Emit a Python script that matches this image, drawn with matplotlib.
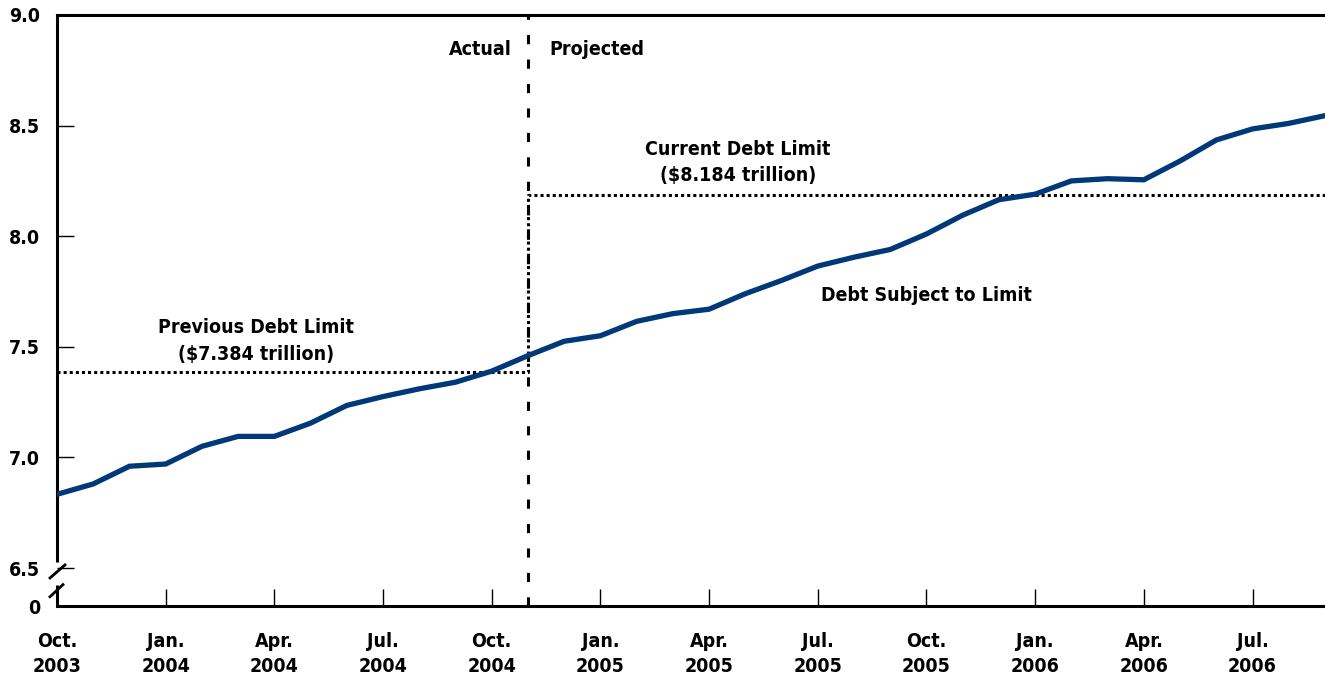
import numpy as np
import matplotlib.pyplot as plt
from matplotlib.transforms import blended_transform_factory

# monthly debt subject to limit, Oct 2003 .. Sep 2006 (trillions of dollars)
debt = [6.833, 6.88, 6.96, 6.97, 7.05, 7.095, 7.095, 7.155, 7.235, 7.275,
        7.31, 7.34, 7.39, 7.46, 7.525, 7.55, 7.615, 7.65, 7.67, 7.74,
        7.80, 7.865, 7.905, 7.94, 8.01, 8.095, 8.165, 8.19, 8.25, 8.26,
        8.255, 8.34, 8.435, 8.485, 8.51, 8.545]
limit_prev = 7.384
limit_curr = 8.184
split_month = 13
tick_months = [0, 3, 6, 9, 12, 15, 18, 21, 24, 27, 30, 33]
tick_labels = ['Oct.\n2003', 'Jan.\n2004', 'Apr.\n2004', 'Jul.\n2004', 'Oct.\n2004',
               'Jan.\n2005', 'Apr.\n2005', 'Jul.\n2005', 'Oct.\n2005', 'Jan.\n2006',
               'Apr.\n2006', 'Jul.\n2006']
y_ticks = [6.5, 7.0, 7.5, 8.0, 8.5, 9.0]

plt.rcParams['font.family'] = ['DejaVu Sans']
plt.rcParams['font.weight'] = 'bold'
plt.rcParams['font.stretch'] = 'condensed'

W, H = 1325, 679
fig = plt.figure(figsize=(W / 100, H / 100), dpi=100)
ax = fig.add_axes([57 / W, 1 - 606 / H, (1325 - 57) / W, (606 - 15) / H])

y_bottom = 6.5 - 38 / 221.2
x = np.arange(len(debt))
ax.plot(x, debt, color='#003878', lw=3.8, solid_joinstyle='miter', zorder=3)

# debt limit step (dotted)
ax.plot([0, split_month, split_month, len(debt) - 1],
        [limit_prev, limit_prev, limit_curr, limit_curr],
        color='black', lw=2.2, linestyle=(0, (1, 1)), zorder=2)
# actual / projected divider
ax.axvline(split_month, color='black', lw=2.2, linestyle=(0, (3, 5)), zorder=2)

ax.set_xlim(0, len(debt) - 1)
ax.set_ylim(y_bottom, 9.0)

fs = 14
ax.set_xticks(tick_months)
ax.set_xticklabels(tick_labels, fontsize=fs, linespacing=1.35)
ax.set_yticks([y_bottom] + y_ticks)
ax.set_yticklabels(['0'] + ['%.1f' % v for v in y_ticks], fontsize=fs)
ax.tick_params(axis='both', direction='in', length=12, width=1, colors='black')
ax.tick_params(axis='x', pad=19)
ax.tick_params(axis='y', pad=12)

for s in ['right', 'left']:
    ax.spines[s].set_visible(False)
for s in ['top', 'bottom']:
    ax.spines[s].set_linewidth(2.2)

# left spine with axis break
tr = blended_transform_factory(ax.transAxes, ax.transData)
px = 1 / 1268
ax.plot([0, 0], [9.0, 6.527], color='black', lw=2.2, transform=tr, clip_on=False,
        solid_capstyle='butt')
ax.plot([0, 0], [6.423, y_bottom], color='black', lw=2.2, transform=tr, clip_on=False,
        solid_capstyle='butt')
ax.plot([-7 * px, 8 * px], [6.455, 6.514], color='black', lw=2.0, transform=tr, clip_on=False)
ax.plot([-7 * px, 6 * px], [6.37, 6.425], color='black', lw=2.0, transform=tr, clip_on=False)

ax.text(split_month - 0.45, 8.842, 'Actual', ha='right', va='center', fontsize=fs)
ax.text(split_month + 0.6, 8.845, 'Projected', ha='left', va='center', fontsize=fs)
ax.text(18.8, 8.333, 'Current Debt Limit\n($8.184 trillion)', ha='center', va='center',
        fontsize=fs, linespacing=1.5)
ax.text(5.5, 7.526, 'Previous Debt Limit\n($7.384 trillion)', ha='center', va='center',
        fontsize=fs, linespacing=1.5)
ax.text(24.0, 7.734, 'Debt Subject to Limit', ha='center', va='center', fontsize=fs)

fig.savefig('out.png', dpi=100)
